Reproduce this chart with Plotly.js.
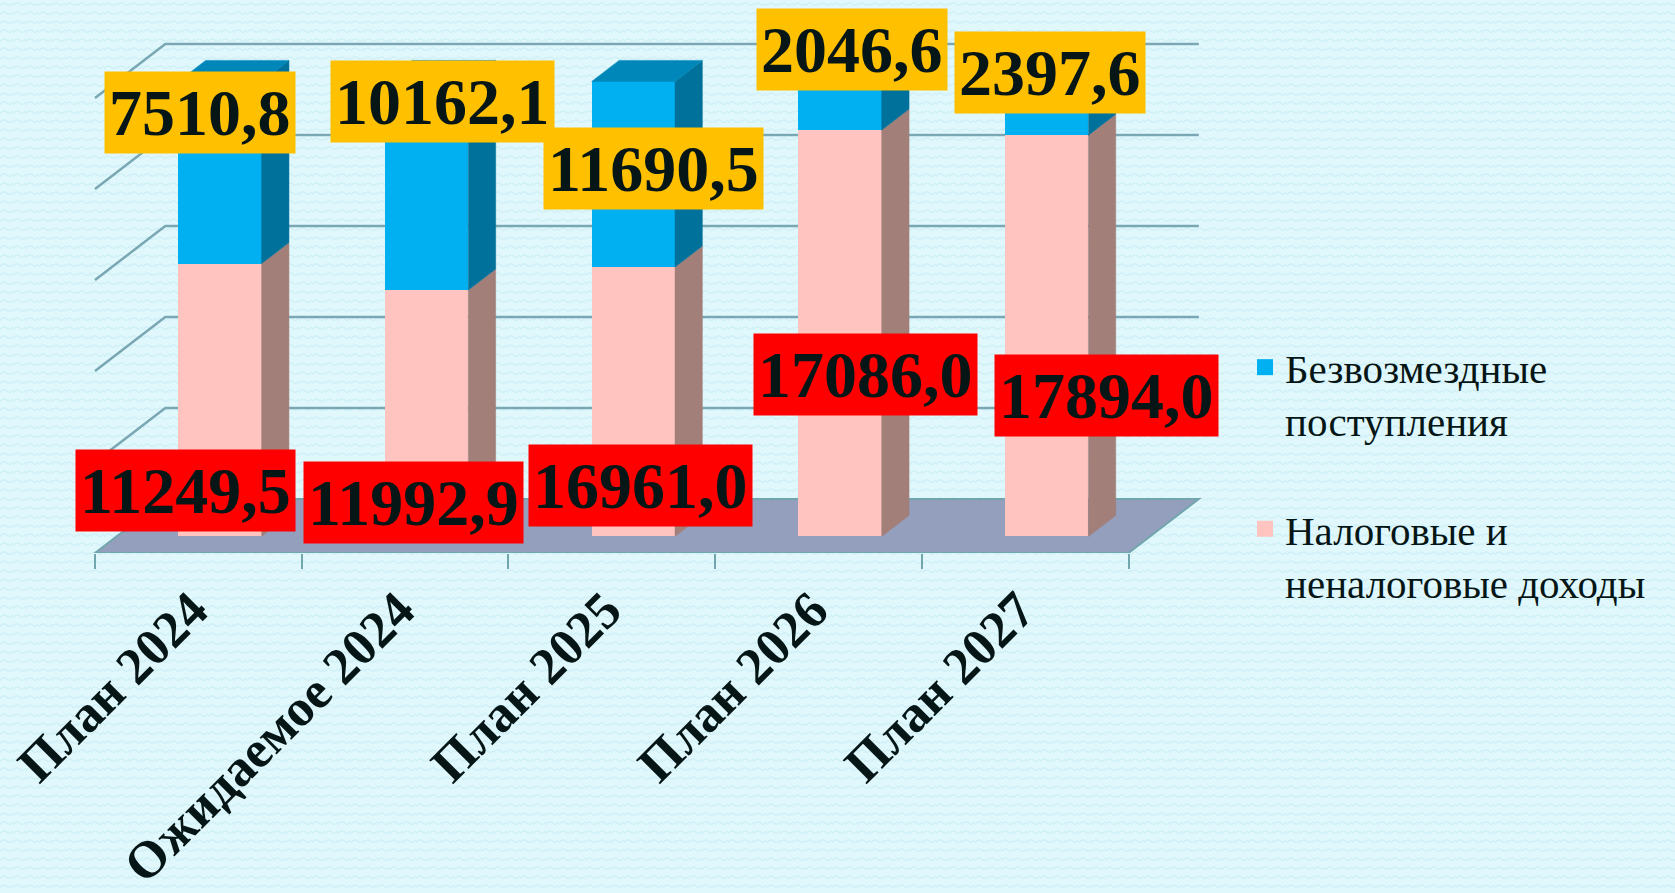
<!DOCTYPE html>
<html>
<head>
<meta charset="utf-8">
<script src="https://cdn.plot.ly/plotly-3.0.1.min.js"></script>
<style>
  html, body { margin: 0; padding: 0; }
  body {
    background-color: #e0f8fc;
    background-image: url("data:image/svg+xml;utf8,<svg xmlns='http://www.w3.org/2000/svg' width='13' height='9'><path d='M0 6 Q3.25 1 6.5 4 T13 3' fill='none' stroke='%23cdeef6' stroke-width='1.2'/></svg>");
  }
  #chart { width: 1675px; height: 893px; }
</style>
</head>
<body>
<div id="chart"></div>
<script>
// ---------------- DATA ----------------
const categories = ['План 2024', 'Ожидаемое 2024', 'План 2025', 'План 2026', 'План 2027'];
const nalogValues = [11249.5, 11992.9, 16961.0, 17086.0, 17894.0];   // Налоговые и неналоговые доходы
const bezvValues  = [7510.8, 10162.1, 11690.5, 2046.6, 2397.6];      // Безвозмездные поступления
const seriesNames = ['Безвозмездные<br>поступления', 'Налоговые и<br>неналоговые доходы'];
const gridLevels  = [20, 40, 60, 80, 100];                           // 100% stacked axis gridlines

// ---------------- GEOMETRY / STYLE ----------------
const W = 1675, H = 893;
const PX_X = 206.7;          // pixels per category
const PX_Y = 4.55;           // pixels per percent
const X0 = 95, Y0 = 553;     // pixel of data origin (floor front-left)
const DDX = 70.3 / PX_X;     // full floor depth, in x units
const DDY = 54 / PX_Y;       // full floor depth, in y units
const F0 = 0.3075, FD = 0.389; // bar front depth and bar depth (fraction of floor)
const BW = 0.403;            // bar width in category units
const n = categories.length;

const toX = px => (px - X0) / PX_X;
const toY = py => (Y0 - py) / PX_Y;

const col = {
  blue: '#00b0f0', blueSide: '#00719b', blueTop: '#0087b9',
  pink: '#ffc4bf', pinkSide: '#a37f7a',
  floor: '#949fbd', grid: '#79a7b3', edge: '#72a6ae', text: '#061616',
  yellow: '#ffc000', red: '#ff0000'
};
const serif = 'Liberation Serif, Times New Roman, serif';

// percentages (100% stacked)
const totals = nalogValues.map((v, i) => v + bezvValues[i]);
const pNalog = nalogValues.map((v, i) => v / totals[i] * 100);
const pBezv  = bezvValues.map((v, i) => v / totals[i] * 100);
const fmt = v => v.toFixed(1).replace('.', ',');

const base0 = F0 * DDY;
const centers = categories.map((c, i) => i + 0.5 + F0 * DDX);
const sdx = FD * DDX, sdy = FD * DDY;

function sidePoly(i, y0, y1) {
  const xr = centers[i] + BW / 2;
  return { x: [xr, xr + sdx, xr + sdx, xr, xr, null], y: [y0, y0 + sdy, y1 + sdy, y1, y0, null] };
}
function topPoly(i, yt) {
  const xl = centers[i] - BW / 2, xr = centers[i] + BW / 2;
  return { x: [xl, xl + sdx, xr + sdx, xr, xl, null], y: [yt, yt + sdy, yt + sdy, yt, yt, null] };
}
function concat(polys) {
  return { x: [].concat(...polys.map(p => p.x)), y: [].concat(...polys.map(p => p.y)) };
}
const pathOf = pts => 'M' + pts.map(p => p[0] + ',' + p[1]).join('L');

// floor + gridlines as shapes below the traces
const shapes = [];
shapes.push({
  type: 'path', xref: 'x', yref: 'y', layer: 'below',
  path: pathOf([[0, 0], [n, 0], [n + DDX, DDY], [DDX, DDY]]) + 'Z',
  fillcolor: col.floor, line: { color: col.edge, width: 2 }
});
gridLevels.forEach(g => shapes.push({
  type: 'path', xref: 'x', yref: 'y', layer: 'below',
  path: pathOf([[0, g], [DDX, g + DDY], [n + DDX, g + DDY]]),
  line: { color: col.grid, width: 2.5 }
}));

const pinkSide = concat(categories.map((c, i) => sidePoly(i, base0, base0 + pNalog[i])));
const blueSide = concat(categories.map((c, i) => sidePoly(i, base0 + pNalog[i], base0 + 100)));
const blueTop  = concat(categories.map((c, i) => topPoly(i, base0 + 100)));

const faceTrace = (p, color) => ({
  type: 'scatter', mode: 'lines', hoverinfo: 'skip', showlegend: false,
  x: p.x, y: p.y, fill: 'toself', fillcolor: color, line: { color: color, width: 0.5 }
});

const pinkFront = {
  type: 'bar', x: centers, y: pNalog, base: categories.map(() => base0), width: BW,
  marker: { color: col.pink, line: { width: 0 } }, showlegend: false, name: seriesNames[1]
};
const blueFront = {
  type: 'bar', x: centers, y: pBezv, base: pNalog.map(p => base0 + p), width: BW,
  marker: { color: col.blue, line: { width: 0 } }, showlegend: false, name: seriesNames[0]
};

const legendBlue = {
  type: 'scatter', mode: 'markers', x: [null], y: [null], name: seriesNames[0],
  marker: { symbol: 'square', size: 22, color: col.blue }, legendgroup: 'a', hoverinfo: 'skip'
};
const legendPink = {
  type: 'scatter', mode: 'markers', x: [null], y: [null], name: seriesNames[1],
  marker: { symbol: 'square', size: 22, color: col.pink }, legendgroup: 'b', hoverinfo: 'skip'
};

// label box positions (pixel centers)
const bezvPos  = [[200, 112], [442, 101], [653, 168], [852, 49], [1050, 72]];
const nalogPos = [[185, 490], [413, 502], [640, 485], [865, 374], [1106, 395]];

const annotations = [];
bezvValues.forEach((v, i) => annotations.push({
  x: toX(bezvPos[i][0]), y: toY(bezvPos[i][1]), xref: 'x', yref: 'y', text: fmt(v), showarrow: false,
  bgcolor: col.yellow, borderpad: 4, font: { family: serif, size: 66, weight: 700, color: col.text }
}));
nalogValues.forEach((v, i) => annotations.push({
  x: toX(nalogPos[i][0]), y: toY(nalogPos[i][1]), xref: 'x', yref: 'y', text: fmt(v), showarrow: false,
  bgcolor: col.red, borderpad: 4, font: { family: serif, size: 66, weight: 700, color: col.text }
}));

const layout = {
  width: W, height: H,
  margin: { l: 0, r: 0, t: 0, b: H - Y0, pad: 0 },
  paper_bgcolor: 'rgba(0,0,0,0)', plot_bgcolor: 'rgba(0,0,0,0)',
  barmode: 'overlay', bargap: 0,
  xaxis: {
    range: [toX(0), toX(W)], showgrid: false, zeroline: false, showline: false, fixedrange: true,
    tickmode: 'array', tickvals: categories.map((c, i) => i + 0.5), ticktext: categories,
    tickangle: -45, ticks: '', ticklabelstandoff: 15, ticklabelshift: -6,
    tickfont: { family: serif, size: 52, weight: 700, color: col.text },
    minor: { tickmode: 'array', tickvals: categories.map((c, i) => i).concat([n]), ticks: 'outside',
             ticklen: 15, tickwidth: 2, tickcolor: col.edge, showgrid: false }
  },
  yaxis: {
    range: [0, Y0 / PX_Y], showgrid: false, zeroline: false, showline: false,
    showticklabels: false, ticks: '', fixedrange: true
  },
  shapes: shapes,
  showlegend: true,
  legend: {
    x: 1245 / W, y: (Y0 - 334) / Y0, xanchor: 'left', yanchor: 'top',
    bgcolor: 'rgba(0,0,0,0)', valign: 'top', traceorder: 'grouped', tracegroupgap: 52,
    font: { family: serif, size: 41, color: col.text }, itemclick: false, itemdoubleclick: false
  },
  annotations: annotations
};

Plotly.newPlot('chart', [
  faceTrace(pinkSide, col.pinkSide), faceTrace(blueSide, col.blueSide), faceTrace(blueTop, col.blueTop),
  pinkFront, blueFront, legendBlue, legendPink
], layout, { displayModeBar: false, staticPlot: true });
</script>
</body>
</html>
